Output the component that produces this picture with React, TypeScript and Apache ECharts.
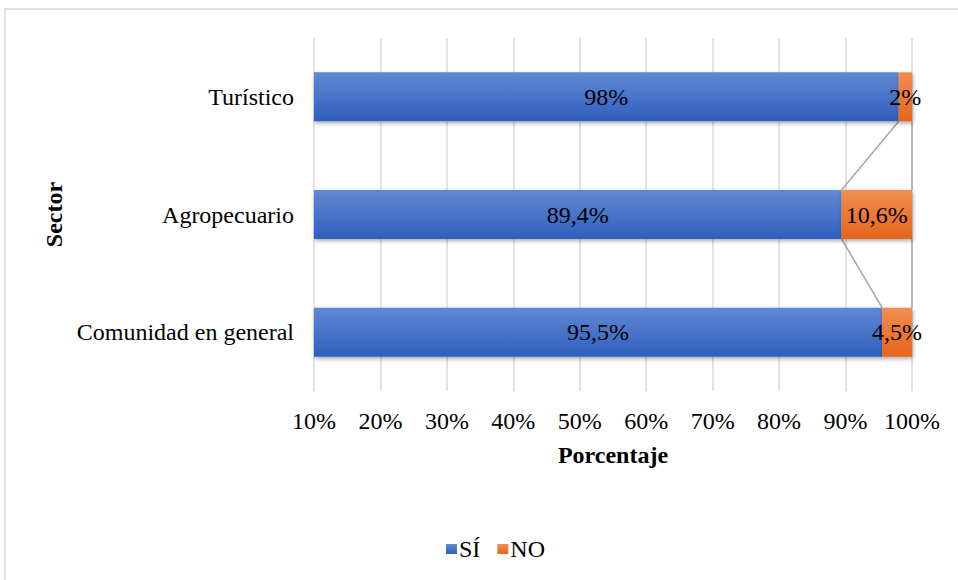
import React, { useEffect, useRef } from "react";
import * as echarts from "echarts";

const categories = ["Turístico", "Agropecuario", "Comunidad en general"];
const siValues = [98, 89.4, 95.5];
const noValues = [2, 10.6, 4.5];
const xTicks = [10, 20, 30, 40, 50, 60, 70, 80, 90, 100];

const FONT = "'Liberation Serif', 'Times New Roman', serif";
const FS = 24;
const BAR_W = 49;

const fmt = (v: number) => String(v).replace(".", ",") + "%";

export default function App() {
  const ref = useRef<HTMLDivElement>(null);
  useEffect(() => {
    document.body.style.margin = "0";
    const chart = echarts.init(ref.current!, null, { renderer: "svg" });
    const totals = siValues.map((v, i) => v + noValues[i]);
    const linkData = categories.slice(0, -1).map((_, i) => [
      i,
      siValues[i],
      siValues[i + 1],
      totals[i],
      totals[i + 1],
    ]);
    const blue = new echarts.graphic.LinearGradient(0, 0, 0, 1, [
      { offset: 0, color: "#6189d4" },
      { offset: 1, color: "#2f5ebd" },
    ]);
    const orange = new echarts.graphic.LinearGradient(0, 0, 0, 1, [
      { offset: 0, color: "#f28d52" },
      { offset: 1, color: "#e4661a" },
    ]);
    const shadow = {
      shadowColor: "rgba(0,0,0,0.35)",
      shadowBlur: 4,
      shadowOffsetX: 1,
      shadowOffsetY: 2,
    };
    chart.setOption({
      animation: false,
      textStyle: { fontFamily: FONT },
      graphic: [
        {
          type: "rect",
          shape: { x: 5, y: 9, width: 1000, height: 1000 },
          style: { fill: "none", stroke: "#d9d9d9", lineWidth: 1.5 },
          silent: true,
        },
      ],
      grid: { left: 314, right: 46, top: 38, bottom: 189, containLabel: false },
      legend: {
        data: ["SÍ", "NO"],
        left: 441,
        top: 532,
        icon: "rect",
        itemWidth: 11,
        itemHeight: 10,
        itemGap: 17,
        textStyle: { fontSize: FS, color: "#000", fontFamily: FONT, padding: [0, 0, 0, -3] },
      },
      xAxis: {
        type: "value",
        min: 10,
        max: 100,
        interval: 10,
        name: "Porcentaje",
        nameLocation: "middle",
        nameGap: 52,
        nameTextStyle: { fontSize: FS, fontWeight: "bold", color: "#000", fontFamily: FONT },
        axisLine: { show: false },
        axisTick: { show: false },
        axisLabel: {
          margin: 18,
          fontSize: FS,
          color: "#000",
          fontFamily: FONT,
          formatter: (v: number) => (xTicks.includes(v) ? v + "%" : ""),
        },
        splitLine: { show: true, lineStyle: { color: "#d9d9d9", width: 1.5 } },
      },
      yAxis: {
        type: "category",
        data: categories,
        inverse: true,
        name: "Sector",
        nameLocation: "middle",
        nameRotate: 90,
        nameGap: 242,
        nameTextStyle: { fontSize: FS, fontWeight: "bold", color: "#000", fontFamily: FONT },
        axisLine: { show: false },
        axisTick: { show: false },
        axisLabel: { margin: 20, fontSize: FS, color: "#000", fontFamily: FONT },
        splitLine: { show: false },
      },
      series: [
        {
          name: "SÍ",
          type: "bar",
          stack: "total",
          barWidth: BAR_W,
          data: siValues,
          itemStyle: { color: blue, ...shadow },
          label: {
            show: true,
            position: "inside",
            color: "#000",
            fontSize: FS,
            fontFamily: FONT,
            formatter: (p: any) => fmt(p.value),
          },
        },
        {
          name: "NO",
          type: "bar",
          stack: "total",
          barWidth: BAR_W,
          data: noValues,
          itemStyle: { color: orange, ...shadow },
          label: {
            show: true,
            position: "inside",
            color: "#000",
            fontSize: FS,
            fontFamily: FONT,
            formatter: (p: any) => fmt(p.value),
          },
        },
        {
          name: "lines",
          type: "custom",
          coordinateSystem: "cartesian2d",
          encode: { x: [1, 2, 3, 4], y: 0 },
          z: 1,
          silent: true,
          data: linkData,
          renderItem: (params: any, api: any) => {
            const i = api.value(0);
            const half = BAR_W / 2;
            const a1 = api.coord([api.value(1), i]);
            const a2 = api.coord([api.value(2), i + 1]);
            const b1 = api.coord([api.value(3), i]);
            const b2 = api.coord([api.value(4), i + 1]);
            const style = { stroke: "#a6a6a6", lineWidth: 1.5 };
            return {
              type: "group",
              children: [
                { type: "line", shape: { x1: a1[0], y1: a1[1] + half, x2: a2[0], y2: a2[1] - half }, style },
                { type: "line", shape: { x1: b1[0], y1: b1[1] + half, x2: b2[0], y2: b2[1] - half }, style },
              ],
            };
          },
        },
      ],
    });
    return () => chart.dispose();
  }, []);
  return <div ref={ref} style={{ width: 958, height: 580 }} />;
}
